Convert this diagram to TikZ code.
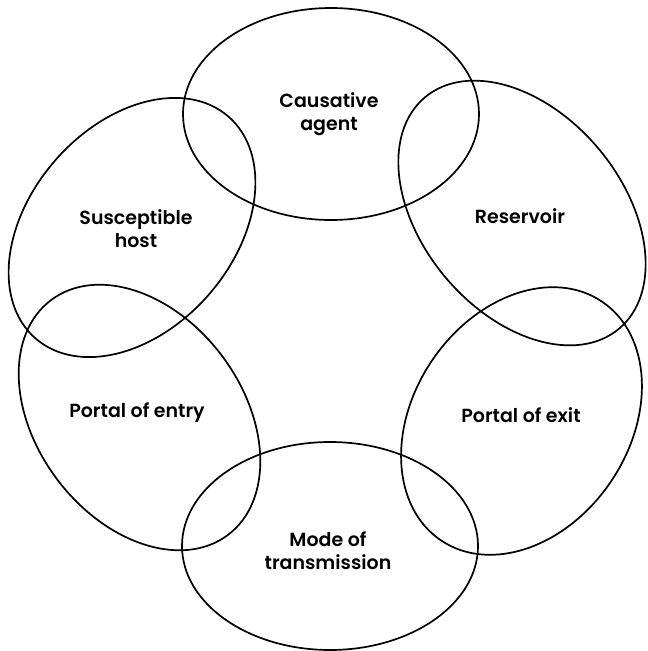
\documentclass[tikz,border=0pt]{standalone}
\usepackage{fontspec}
\setmainfont{Poppins}[UprightFont=* SemiBold]
\begin{document}
\begin{tikzpicture}[x=1pt,y=-1pt,
  ring/.style={draw=black, line width=1.7pt},
  label/.style={align=center, font=\fontsize{19}{23}\selectfont, inner sep=0pt}]
\useasboundingbox (0,0) rectangle (648,651);
% the six links of the chain
\draw[ring] (331,114) ellipse [x radius=148, y radius=106];
\draw[ring, rotate around={-50:(522,213)}] (522,213) ellipse [x radius=151, y radius=100];
\draw[ring, rotate around={56:(521.5,421)}] (521.5,421) ellipse [x radius=144, y radius=108];
\draw[ring] (330,546) ellipse [x radius=148, y radius=104];
\draw[ring, rotate around={-53:(139.5,417.5)}] (139.5,417.5) ellipse [x radius=147, y radius=103];
\draw[ring, rotate around={49:(132,227.5)}] (132,227.5) ellipse [x radius=147, y radius=102];
% labels
\node[label] (agent) at (329,114) {Causative\\agent};
\node[label] (reservoir) at (520,216) {Reservoir};
\node[label] (exit) at (521,415) {Portal of exit};
\node[label] (mode) at (328,551) {Mode of\\transmission};
\node[label] (entry) at (137,413) {Portal of entry};
\node[label] (host) at (136,229) {Susceptible\\host};
\end{tikzpicture}
\end{document}
